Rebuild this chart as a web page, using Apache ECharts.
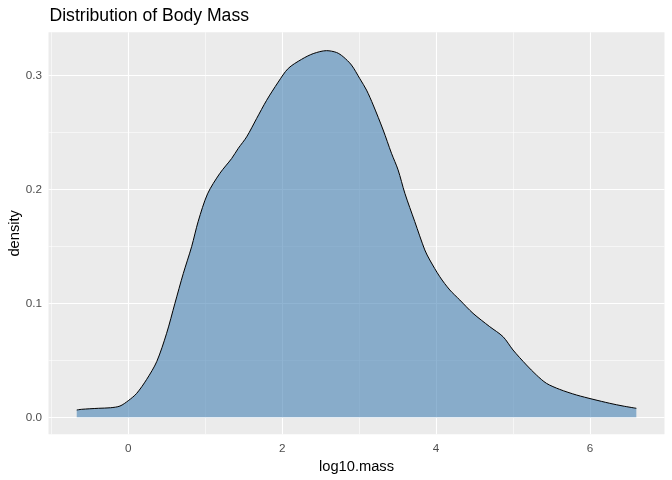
<!DOCTYPE html>
<html>
<head>
<meta charset="utf-8">
<script src="https://cdn.jsdelivr.net/npm/echarts@6/dist/echarts.min.js"></script>
<style>
html,body{margin:0;padding:0;background:#fff;}
#c{width:672px;height:480px;}
</style>
</head>
<body>
<div id="c"></div>
<script>
// log10.mass values (x) and density estimates (y)
const massX = [-0.67, -0.61, -0.39, -0.23, -0.108, 0.0, 0.109, 0.239, 0.369, 0.498, 0.606, 0.714, 0.823, 0.909, 1.03, 1.19, 1.343, 1.43, 1.538, 1.667, 1.797, 1.948, 2.078, 2.252, 2.403, 2.576, 2.706, 2.792, 2.9, 3.009, 3.096, 3.182, 3.312, 3.42, 3.506, 3.594, 3.723, 3.853, 3.918, 4.048, 4.178, 4.308, 4.48, 4.697, 4.87, 5.0, 5.174, 5.304, 5.434, 5.606, 5.823, 6.039, 6.256, 6.429, 6.602];
const densityY = [0.0064, 0.007, 0.0079, 0.0084, 0.0099, 0.0146, 0.021, 0.0333, 0.0488, 0.0737, 0.1, 0.126, 0.1497, 0.172, 0.196, 0.214, 0.227, 0.236, 0.246, 0.262, 0.278, 0.294, 0.306, 0.314, 0.319, 0.3216, 0.320, 0.3163, 0.309, 0.297, 0.287, 0.274, 0.252, 0.2316, 0.217, 0.1965, 0.1716, 0.1468, 0.138, 0.1233, 0.1117, 0.1029, 0.0912, 0.0795, 0.0707, 0.059, 0.0459, 0.0371, 0.0298, 0.0245, 0.0196, 0.0158, 0.0123, 0.0099, 0.0079];
const xMajor = [0, 2, 4, 6];
const xMinor = [-1, 1, 3, 5];
const yMajor = [0, 0.1, 0.2, 0.3];
const yMinor = [0.05, 0.15, 0.25];
const xLabels = ['0', '2', '4', '6'];
const yLabels = ['0.0', '0.1', '0.2', '0.3'];

const FONT = '"Liberation Sans", Arial, sans-serif';
const chart = echarts.init(document.getElementById('c'), null, {renderer: 'canvas'});

const gridLines = [];
xMinor.forEach(v => gridLines.push({xAxis: v, lineStyle: {width: 0.55}}));
yMinor.forEach(v => gridLines.push({yAxis: v, lineStyle: {width: 0.55}}));
xMajor.forEach(v => gridLines.push({xAxis: v, lineStyle: {width: 1.1}}));
yMajor.forEach(v => gridLines.push({yAxis: v, lineStyle: {width: 1.1}}));

chart.setOption({
  animation: false,
  backgroundColor: '#ffffff',
  title: {
    text: 'Distribution of Body Mass',
    left: 49.5,
    top: 7,
    padding: 0,
    textStyle: {fontFamily: FONT, fontSize: 17.6, fontWeight: 'normal', color: '#000'}
  },
  grid: {
    left: 48.5, top: 32.3, right: 7.5, bottom: 45.7,
    containLabel: false,
    outerBoundsMode: 'none',
    show: true, backgroundColor: '#EBEBEB', borderWidth: 0
  },
  xAxis: {
    type: 'value',
    min: -1.037, max: 6.968,
    name: 'log10.mass',
    nameLocation: 'middle',
    nameGap: 25,
    nameMoveOverlap: false,
    nameTextStyle: {fontFamily: FONT, fontSize: 14.7, color: '#000'},
    axisLine: {show: false},
    axisTick: {show: true, length: 3.7, customValues: xMajor, lineStyle: {color: '#333333', width: 1}},
    axisLabel: {
      customValues: xMajor,
      fontFamily: FONT, fontSize: 11.7, color: '#4D4D4D', margin: 8,
      formatter: v => xLabels[xMajor.indexOf(Math.round(v))] ?? ''
    },
    splitLine: {show: false}
  },
  yAxis: {
    type: 'value',
    min: -0.0149, max: 0.3377,
    name: 'density',
    nameLocation: 'middle',
    nameGap: 26,
    nameRotate: 90,
    nameMoveOverlap: false,
    nameTextStyle: {fontFamily: FONT, fontSize: 14.7, color: '#000'},
    axisLine: {show: false},
    axisTick: {show: true, length: 3.7, customValues: yMajor, lineStyle: {color: '#333333', width: 1}},
    axisLabel: {
      customValues: yMajor,
      fontFamily: FONT, fontSize: 11.7, color: '#4D4D4D', margin: 6.5,
      formatter: v => yLabels[yMajor.findIndex(t => Math.abs(t - v) < 1e-6)] ?? ''
    },
    splitLine: {show: false}
  },
  series: [
    {
      type: 'line',
      z: 1,
      silent: true,
      data: [[0, 0]],
      symbol: 'none',
      lineStyle: {width: 0, opacity: 0},
      markLine: {
        z: 1,
        silent: true,
        symbol: 'none',
        label: {show: false},
        lineStyle: {color: '#ffffff', type: 'solid'},
        emphasis: {disabled: true},
        data: gridLines
      }
    },
    {
      type: 'line',
      z: 3,
      data: massX.map((x, i) => [x, densityY[i]]),
      symbol: 'none',
      smooth: 0.3,
      lineStyle: {color: '#000000', width: 1},
      areaStyle: {color: '#4682B4', opacity: 0.6, origin: 0}
    }
  ]
});
</script>
</body>
</html>
